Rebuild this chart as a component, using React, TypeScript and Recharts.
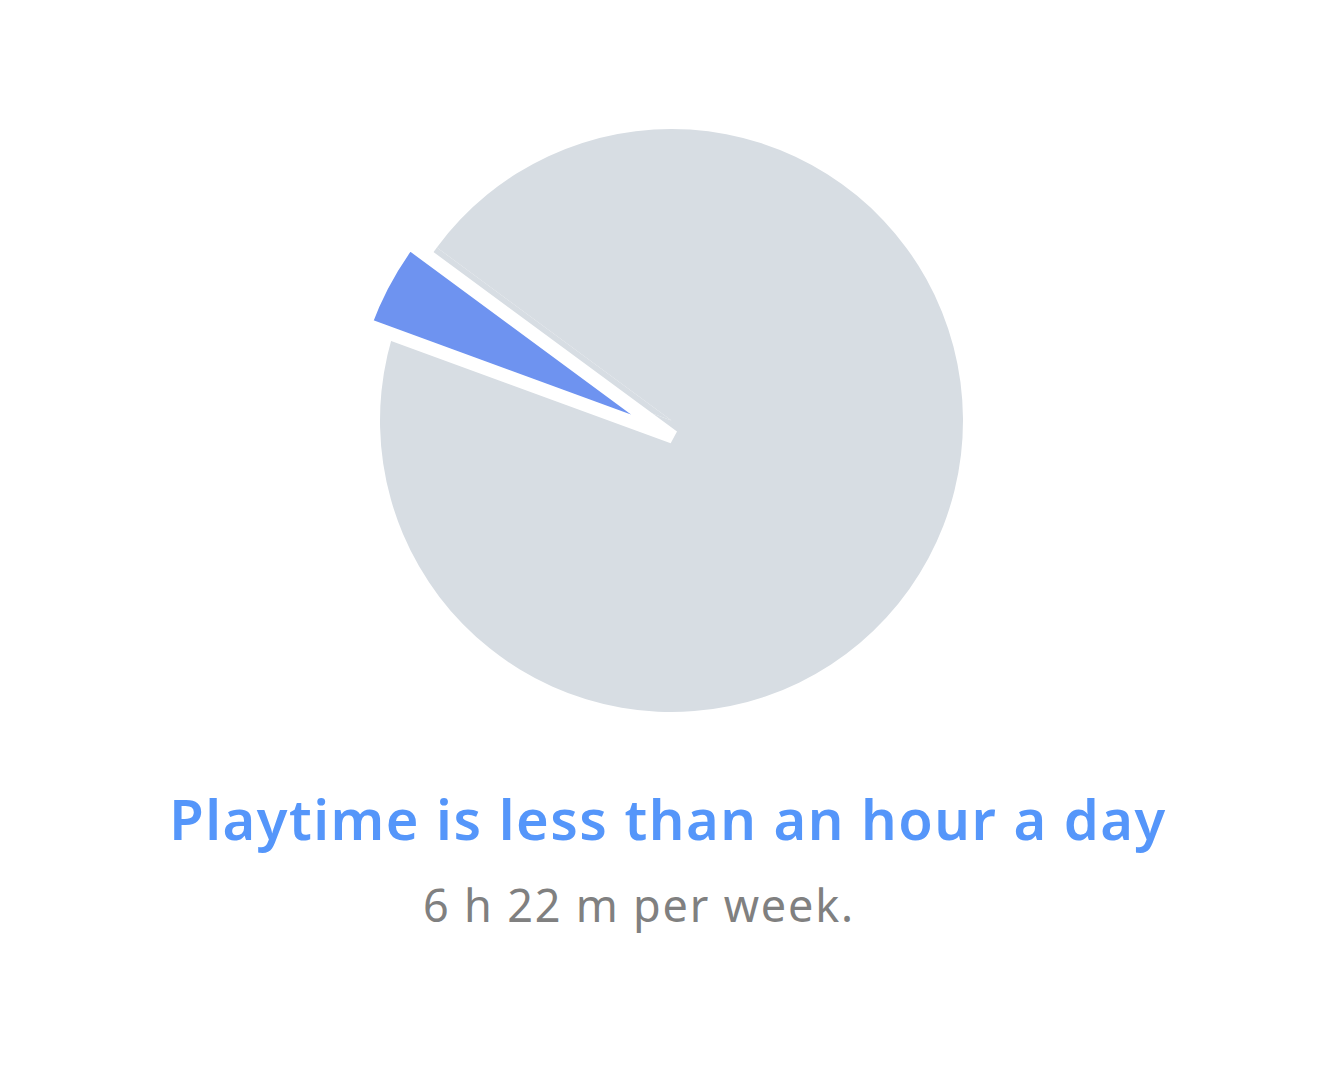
import React from "react";
import { PieChart, Pie, Cell } from "recharts";

const categories = ["Playtime", "Other time"];
const minutesPerWeek = [382, 8060];
const sliceColors = ["#6e93f0", "#d7dde3"];
const title = "Playtime is less than an hour a day";
const subtitle = "6 h 22 m per week.";

const data = categories.map((name, i) => ({ name, value: minutesPerWeek[i] }));

const START = 143.6;

export default function App() {
  return (
    <div style={{ position: "relative", width: 1335, height: 1060, background: "#fff", fontFamily: "'Noto Sans', sans-serif" }}>
      <style>{`html,body{margin:0;padding:0;overflow:hidden;background:#fff}`}</style>
      <PieChart width={1335} height={1060} margin={{ top: 0, right: 0, bottom: 0, left: 0 }}>
        <Pie
          data={data}
          dataKey="value"
          nameKey="name"
          cx={671.5}
          cy={420.5}
          outerRadius={291.5}
          startAngle={START}
          endAngle={START + 360}
          isAnimationActive={false}
          stroke="none"
        >
          {data.map((d) => (
            <Cell key={d.name} fill={sliceColors[1]} stroke="none" />
          ))}
        </Pie>
        <Pie
          data={data}
          dataKey="value"
          nameKey="name"
          cx={673}
          cy={437}
          outerRadius={328}
          startAngle={START}
          endAngle={START + 360}
          isAnimationActive={false}
        >
          {data.map((d, i) => (
            <Cell
              key={d.name}
              fill={i === 0 ? sliceColors[0] : "none"}
              stroke={i === 0 ? "#ffffff" : "none"}
              strokeWidth={i === 0 ? 13.5 : 0}
            />
          ))}
        </Pie>
      </PieChart>
      <div
        style={{
          position: "absolute",
          left: 0,
          width: 1336,
          top: 776,
          textAlign: "center",
          fontSize: 56,
          fontWeight: 600,
          letterSpacing: 1.5,
          color: "#5596fa",
          lineHeight: "84px",
          whiteSpace: "nowrap",
        }}
      >
        {title}
      </div>
      <div
        style={{
          position: "absolute",
          left: 423,
          top: 875,
          fontSize: 45,
          fontWeight: 400,
          letterSpacing: 1.8,
          color: "#808080",
          lineHeight: "60px",
          whiteSpace: "nowrap",
        }}
      >
        {subtitle}
      </div>
    </div>
  );
}
